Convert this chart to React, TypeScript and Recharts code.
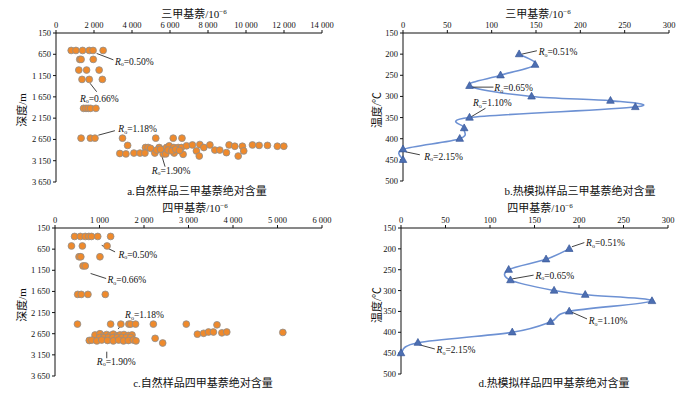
import { ScatterChart, Scatter, ComposedChart, Line, XAxis, YAxis, ReferenceLine, ReferenceDot } from "recharts"

const serif = '"Liberation Serif", "Times New Roman", serif'
const cjk = '"Liberation Serif", "Noto Sans CJK SC", serif'

// a. 自然样品三甲基萘：含量 /10^-6 与深度 /m
const triNatContent = [
  800, 1050, 1400, 1750, 1950, 2480,
  1250, 1320, 1960,
  1200, 1610, 2270,
  1370, 1750, 2440,
  1450, 1580, 1700, 1820, 2100,
  1320, 1810, 2050, 3500, 5250, 6170, 6630,
  3770, 4710, 4850, 4980, 5430, 5820, 5960, 6200, 6430, 6600, 6870, 7180, 7570, 7780, 8100, 8360, 8620, 9110, 9410, 9810, 10340, 10690, 11130, 11650, 11990,
  3360, 3680, 4100, 4420, 4680, 5200, 5640, 5780, 6220, 6690, 7390, 7540, 8970, 9590, 9880,
  5300, 5500, 5900, 6100, 6300, 6500,
]
const triNatDepth = [
  560, 560, 560, 560, 560, 560,
  770, 770, 770,
  1020, 1020, 1020,
  1240, 1240, 1240,
  1920, 1920, 1920, 1920, 1920,
  2620, 2620, 2620, 2620, 2620, 2620, 2620,
  2790, 2840, 2840, 2860, 2840, 2840, 2800, 2840, 2840, 2840, 2800, 2780, 2770, 2840, 2780, 2900, 2900, 2780, 2810, 2810, 2780, 2790, 2790, 2810, 2810,
  2980, 2990, 2970, 2970, 2970, 2970, 2990, 2990, 2970, 3000, 2920, 3040, 2960, 3040, 2920,
  2900, 2880, 2900, 2920, 2880, 2910,
]

// c. 自然样品四甲基萘
const tetraNatContent = [
  440, 570, 680, 760, 820, 960, 1250,
  370, 615, 1170,
  540, 580, 1010,
  630, 680,
  510, 590, 740, 1130,
  505, 1250, 1480, 1660, 1700, 1810, 2210, 2950,
  3200, 3340, 3450, 3560, 3640, 3750, 3860, 5120,
  900, 1010, 1090, 1160, 1240, 1310, 1390, 1460, 1550, 1650, 1730,
  1000, 1100, 1200, 1300, 1400, 1500, 1600, 1700,
  770, 830, 940, 1050, 1180, 1310, 1430, 1540, 1650, 1760, 1820, 2250, 2420,
]
const tetraNatDepth = [
  350, 350, 350, 350, 350, 350, 350,
  575, 575, 575,
  830, 830, 830,
  1047, 1047,
  1720, 1720, 1720, 1720,
  2423, 2423, 2423, 2423, 2423, 2423, 2423, 2423,
  2660, 2640, 2610, 2610, 2440, 2630, 2610, 2620,
  2680, 2650, 2700, 2670, 2690, 2660, 2700, 2680, 2670, 2690, 2680,
  2740, 2740, 2740, 2740, 2740, 2740, 2740, 2740,
  2810, 2800, 2820, 2800, 2810, 2820, 2800, 2820, 2810, 2800, 2820, 2760, 2870,
]

// b / d. 热模拟样品：温度 /℃
const temps = [200, 225, 250, 275, 300, 310, 325, 350, 375, 400, 425, 450]
const triThermal = [131, 149, 110, 75, 145, 234, 262, 75, 69, 64, 0, 0]
const tetraThermal = [189, 163, 121, 123, 172, 207, 282, 189, 168, 125, 19, 0]

const triNatTicks = [0, 2000, 4000, 6000, 8000, 10000, 12000, 14000]
const tetraNatTicks = [0, 1000, 2000, 3000, 4000, 5000, 6000]
const depthTicks = [150, 650, 1150, 1650, 2150, 2650, 3150, 3650]
const thermalTicks = [0, 50, 100, 150, 200, 250, 300]
const tempTicks = [150, 200, 250, 300, 350, 400, 450, 500]

// Ro 标注：引线起止点与文字位置（数据坐标）
const triNatNotes = [
  { ro: "0.50%", from: [2140, 630], to: [3020, 780], at: [3100, 830] },
  { ro: "0.66%", from: [1790, 1330], to: [2140, 1530], at: [1260, 1690] },
  { ro: "1.18%", from: [2230, 2550], to: [3100, 2445], at: [3280, 2410] },
  { ro: "1.90%", from: [5560, 3020], to: [5740, 3290], at: [5040, 3390] },
]
const tetraNatNotes = [
  { ro: "0.50%", from: [1050, 560], to: [1350, 715], at: [1425, 780] },
  { ro: "0.66%", from: [800, 1225], to: [1150, 1345], at: [1180, 1385] },
  { ro: "1.18%", from: [1420, 2540], to: [1530, 2370], at: [1575, 2210] },
  { ro: "1.90%", from: [1163, 3075], to: [1163, 3230], at: [940, 3315] },
]
const triThermalNotes = [
  { ro: "0.51%", from: [134, 200], to: [151, 192], at: [153, 196] },
  { ro: "0.65%", from: [78, 278], to: [102, 278], at: [103, 281] },
  { ro: "1.10%", from: [77, 348], to: [93, 328], at: [79, 316] },
  { ro: "2.15%", from: [3, 431], to: [19, 438], at: [24, 443] },
]
const tetraThermalNotes = [
  { ro: "0.51%", from: [192, 195], to: [206, 185], at: [208, 187] },
  { ro: "0.65%", from: [125, 272], to: [149, 263], at: [151, 264] },
  { ro: "1.10%", from: [191, 351], to: [209, 368], at: [211, 373] },
  { ro: "2.15%", from: [19, 429], to: [38, 440], at: [40, 443] },
]

const fmt = (v: number) => String(v).replace(/\B(?=(\d{3})+(?!\d))/g, " ")

// Excel 风格平滑曲线
const excelSmooth: any = (ctx: any) => {
  let pts: number[][] = []
  return {
    areaStart() {},
    areaEnd() {},
    lineStart() { pts = [] },
    point(x: number, y: number) { pts.push([+x, +y]) },
    lineEnd() {
      if (!pts.length) return
      ctx.moveTo(pts[0][0], pts[0][1])
      for (let i = 0; i < pts.length - 1; i++) {
        const p0 = pts[Math.max(i - 1, 0)]
        const p1 = pts[i]
        const p2 = pts[i + 1]
        const p3 = pts[Math.min(i + 2, pts.length - 1)]
        ctx.bezierCurveTo(
          p1[0] + (p2[0] - p0[0]) / 6, p1[1] + (p2[1] - p0[1]) / 6,
          p2[0] - (p3[0] - p1[0]) / 6, p2[1] - (p3[1] - p1[1]) / 6,
          p2[0], p2[1]
        )
      }
    },
  }
}

const Dot = (p: any) => (
  <circle cx={p.cx} cy={p.cy} r={3.4} fill="#ef8a2c" stroke="#8e8e8e" strokeWidth={0.8} />
)

const Triangle = (p: any) => {
  const { cx, cy, index } = p
  if (cx == null || cy == null) return <g key={`t${index}`} />
  return (
    <polygon
      key={`t${index}`}
      points={`${cx},${cy - 4.2} ${cx - 3.8},${cy + 2.6} ${cx + 3.8},${cy + 2.6}`}
      fill="#4d6fb2"
      stroke="#38589a"
      strokeWidth={0.7}
    />
  )
}

const RoText = ({ cx, cy, ro }: any) => (
  <text x={cx} y={cy} fontFamily={serif} fontSize={9.5} fill="#111" dominantBaseline="central">
    <tspan fontStyle="italic">R</tspan>
    <tspan fontSize={6} dy={2.5}>o</tspan>
    <tspan dy={-2.5}>={ro}</tspan>
  </text>
)

const notesOf = (notes: typeof triNatNotes) =>
  notes.map((n, i) => [
    <ReferenceLine
      key={`l${i}`}
      segment={[{ x: n.from[0], y: n.from[1] }, { x: n.to[0], y: n.to[1] }]}
      stroke="#111"
      strokeWidth={0.8}
      ifOverflow="visible"
    />,
    <ReferenceDot
      key={`d${i}`}
      x={n.at[0]}
      y={n.at[1]}
      r={0}
      ifOverflow="visible"
      shape={(p: any) => <RoText {...p} ro={n.ro} />}
    />,
  ])

const tick = { fontSize: 8.5, fontFamily: serif, fill: "#111" }
const axisLine = { stroke: "#111" }

const Label = ({ x, y, children, rotate, size = 11 }: any) => (
  <div
    style={{
      position: "absolute",
      left: x,
      top: y,
      transform: `translate(-50%, -50%)${rotate ? " rotate(-90deg)" : ""}`,
      whiteSpace: "nowrap",
      fontFamily: cjk,
      fontSize: size,
      color: "#111",
      lineHeight: 1,
    }}
  >
    {children}
  </div>
)

const Unit = () => (
  <>
    /10<span style={{ fontSize: 7, position: "relative", top: -4 }}>−6</span>
  </>
)

function NaturalPanel({ content, depth, xMax, xTicks, notes, margin }: any) {
  const points = content.map((x: number, i: number) => ({ x, y: depth[i] }))
  return (
    <ScatterChart width={345} height={200} margin={margin}>
      <XAxis
        type="number"
        dataKey="x"
        orientation="top"
        domain={[0, xMax]}
        ticks={xTicks}
        tickFormatter={fmt}
        height={20}
        tickSize={3}
        tick={tick}
        axisLine={axisLine}
        tickLine={axisLine}
        interval={0}
      />
      <YAxis
        type="number"
        dataKey="y"
        reversed
        domain={[150, 3650]}
        ticks={depthTicks}
        tickFormatter={fmt}
        width={40}
        tickSize={3}
        tick={tick}
        axisLine={axisLine}
        tickLine={axisLine}
        interval={0}
      />
      <Scatter data={points} shape={Dot} isAnimationActive={false} />
      {notesOf(notes)}
    </ScatterChart>
  )
}

function ThermalPanel({ values, notes, margin }: any) {
  const rows = temps.map((t, i) => ({ t, v: values[i] }))
  return (
    <ComposedChart width={344} height={200} layout="vertical" data={rows} margin={margin}>
      <XAxis
        type="number"
        orientation="top"
        domain={[0, 300]}
        ticks={thermalTicks}
        height={20}
        tickSize={3}
        tick={tick}
        axisLine={axisLine}
        tickLine={axisLine}
        interval={0}
      />
      <YAxis
        type="number"
        dataKey="t"
        domain={[150, 500]}
        ticks={tempTicks}
        width={40}
        tickSize={3}
        tick={tick}
        axisLine={axisLine}
        tickLine={axisLine}
        interval={0}
      />
      <Line
        dataKey="v"
        type={excelSmooth}
        stroke="#6d91d3"
        strokeWidth={1.6}
        dot={Triangle}
        activeDot={false}
        isAnimationActive={false}
      />
      {notesOf(notes)}
    </ComposedChart>
  )
}

export default function App() {
  return (
    <div style={{ position: "absolute", left: 0, top: 0, width: 689, height: 396, background: "#fff", overflow: "hidden" }}>
      <div style={{ position: "absolute", left: 0, top: 0 }}>
        <NaturalPanel
          content={triNatContent}
          depth={triNatDepth}
          xMax={14000}
          xTicks={triNatTicks}
          notes={triNatNotes}
          margin={{ top: 13, right: 23, bottom: 18, left: 16 }}
        />
      </div>
      <div style={{ position: "absolute", left: 345, top: 0 }}>
        <ThermalPanel values={triThermal} notes={triThermalNotes} margin={{ top: 13, right: 20, bottom: 19, left: 18 }} />
      </div>
      <div style={{ position: "absolute", left: 0, top: 195 }}>
        <NaturalPanel
          content={tetraNatContent}
          depth={tetraNatDepth}
          xMax={6000}
          xTicks={tetraNatTicks}
          notes={tetraNatNotes}
          margin={{ top: 13, right: 23, bottom: 19, left: 15 }}
        />
      </div>
      <div style={{ position: "absolute", left: 345, top: 195 }}>
        <ThermalPanel values={tetraThermal} notes={tetraThermalNotes} margin={{ top: 13, right: 21, bottom: 21, left: 16 }} />
      </div>

      <Label x={194} y={14}>三甲基萘<Unit /></Label>
      <Label x={538} y={14}>三甲基萘<Unit /></Label>
      <Label x={195} y={208}>四甲基萘<Unit /></Label>
      <Label x={540} y={208}>四甲基萘<Unit /></Label>

      <Label x={22} y={110} rotate>深度/m</Label>
      <Label x={377} y={110} rotate>温度/℃</Label>
      <Label x={22} y={305} rotate>深度/m</Label>
      <Label x={377} y={305} rotate>温度/℃</Label>

      <Label x={197} y={191}>a.自然样品三甲基萘绝对含量</Label>
      <Label x={580} y={191}>b.热模拟样品三甲基萘绝对含量</Label>
      <Label x={203} y={383}>c.自然样品四甲基萘绝对含量</Label>
      <Label x={554} y={383}>d.热模拟样品四甲基萘绝对含量</Label>
    </div>
  )
}
